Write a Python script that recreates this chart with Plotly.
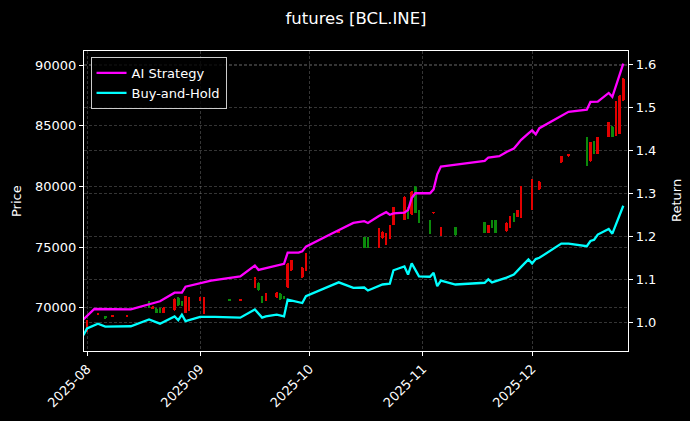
import plotly.graph_objects as go
from plotly.subplots import make_subplots

# ---------------- data ----------------
candle_dates = [
    "2025-08-01", "2025-08-04", "2025-08-06", "2025-08-08", "2025-08-12",
    "2025-08-18", "2025-08-19", "2025-08-20", "2025-08-21", "2025-08-22",
    "2025-08-25", "2025-08-26", "2025-08-27", "2025-08-28", "2025-08-29",
    "2025-09-01", "2025-09-02", "2025-09-09", "2025-09-12", "2025-09-16",
    "2025-09-17", "2025-09-18", "2025-09-19", "2025-09-22", "2025-09-23",
    "2025-09-24", "2025-09-25", "2025-09-26", "2025-09-29", "2025-09-30",
    "2025-10-09", "2025-10-16", "2025-10-17", "2025-10-20", "2025-10-21",
    "2025-10-22", "2025-10-23", "2025-10-24", "2025-10-27", "2025-10-28",
    "2025-10-29", "2025-10-30", "2025-10-31", "2025-11-03", "2025-11-04",
    "2025-11-06", "2025-11-10", "2025-11-18", "2025-11-19", "2025-11-20",
    "2025-11-21", "2025-11-24", "2025-11-25", "2025-11-26", "2025-11-27",
    "2025-11-28", "2025-12-01", "2025-12-03", "2025-12-09", "2025-12-11",
    "2025-12-16", "2025-12-17", "2025-12-18", "2025-12-19", "2025-12-22",
    "2025-12-23", "2025-12-24", "2025-12-25", "2025-12-26",
]
open_ = [
    68900, 69550, 69200, 69320, 69330,
    70000, 70100, 69600, 69600, 70000,
    70700, 70200, 70200, 70950, 70800,
    70800, 70800, 70620, 70700, 72450,
    71450, 70450, 71150, 71250, 70700,
    70800, 73650, 73900, 73300, 74500,
    76280, 74950, 74950, 76550, 76250,
    76150, 76800, 78300, 79150, 77400,
    79550, 77850, 77000, 76150, 77850,
    76650, 76000, 76200, 76800, 76600,
    76200, 77000, 77500, 77100, 78050,
    80000, 80550, 80400, 82500, 82600,
    81700, 83650, 82700, 84050, 85300,
    84100, 87000, 87500, 88900,
]
high = [
    69000, 69600, 69300, 69350, 69360,
    70600, 70150, 69950, 69950, 70050,
    70800, 70850, 70600, 71000, 70850,
    70850, 70850, 70700, 70720, 72500,
    72100, 71000, 71200, 71300, 71200,
    71000, 73700, 73950, 73350, 74550,
    76300, 75850, 75850, 76600, 76300,
    76200, 76850, 78350, 79200, 78350,
    79600, 80000, 78100, 77250, 77880,
    76700, 76700, 77100, 76850, 77250,
    77250, 77050, 77550, 77850, 78100,
    80050, 80600, 80450, 82550, 82650,
    84100, 83700, 83750, 84100, 85350,
    84950, 87050, 87550, 88950,
]
low = [
    68000, 69400, 69150, 69250, 69280,
    69950, 69900, 69550, 69550, 69550,
    69700, 70150, 70150, 69550, 69700,
    70550, 69450, 70600, 70620, 71650,
    71400, 70400, 70550, 70800, 70650,
    70750, 71650, 73050, 72450, 73050,
    76200, 74900, 74900, 74950, 75700,
    75150, 75700, 76800, 77200, 77350,
    77650, 77800, 76950, 76100, 77800,
    75950, 75950, 76150, 76150, 76550,
    76150, 76250, 76550, 77050, 77450,
    77400, 78050, 79750, 81950, 82500,
    81650, 82050, 82650, 82650, 84050,
    84050, 84150, 84300, 87050,
]
close = [
    68100, 69450, 69280, 69280, 69300,
    70500, 69950, 69900, 69900, 69600,
    69800, 70800, 70550, 69600, 69750,
    70600, 69500, 70680, 70640, 71700,
    72050, 70950, 70600, 70850, 71150,
    70950, 71700, 73100, 72500, 73100,
    76220, 75800, 75800, 75000, 75750,
    75200, 75750, 76850, 77250, 78300,
    77700, 79950, 78050, 77200, 77820,
    76000, 76650, 77050, 76200, 77200,
    77200, 76300, 76600, 77800, 77500,
    77450, 78100, 79800, 82000, 82550,
    84050, 82100, 83700, 82700, 84100,
    84900, 84200, 84350, 87100,
]

ai_dates = [
    "2025-07-31", "2025-08-03", "2025-08-13", "2025-08-18", "2025-08-21",
    "2025-08-25", "2025-08-27", "2025-08-28", "2025-09-01", "2025-09-04",
    "2025-09-12", "2025-09-16", "2025-09-17", "2025-09-18", "2025-09-23",
    "2025-09-24", "2025-09-25", "2025-09-28", "2025-09-29", "2025-09-30",
    "2025-10-07", "2025-10-13", "2025-10-16", "2025-10-17", "2025-10-20",
    "2025-10-22", "2025-10-23", "2025-10-24", "2025-10-27", "2025-10-28",
    "2025-10-29", "2025-10-30", "2025-11-03", "2025-11-04", "2025-11-05",
    "2025-11-06", "2025-11-07", "2025-11-18", "2025-11-19", "2025-11-22",
    "2025-11-24", "2025-11-26", "2025-11-27", "2025-11-28", "2025-11-30",
    "2025-12-01", "2025-12-02", "2025-12-03", "2025-12-11", "2025-12-16",
    "2025-12-17", "2025-12-19", "2025-12-22", "2025-12-23", "2025-12-26",
]
ai_return = [
    1.008, 1.032, 1.031, 1.042, 1.050,
    1.070, 1.070, 1.084, 1.093, 1.098,
    1.108, 1.133, 1.123, 1.125, 1.135,
    1.137, 1.163, 1.163, 1.166, 1.177,
    1.207, 1.232, 1.236, 1.232, 1.248,
    1.257, 1.251, 1.254, 1.256, 1.262,
    1.290, 1.301, 1.301, 1.310, 1.345,
    1.363, 1.364, 1.376, 1.384, 1.387,
    1.397, 1.405, 1.415, 1.425, 1.440,
    1.447, 1.438, 1.452, 1.490, 1.495,
    1.513, 1.514, 1.534, 1.525, 1.602,
]

bh_dates = [
    "2025-07-31", "2025-08-01", "2025-08-04", "2025-08-06", "2025-08-13",
    "2025-08-18", "2025-08-21", "2025-08-25", "2025-08-26", "2025-08-27",
    "2025-08-28", "2025-09-01", "2025-09-05", "2025-09-12", "2025-09-16",
    "2025-09-18", "2025-09-19", "2025-09-22", "2025-09-24", "2025-09-25",
    "2025-09-29", "2025-09-30", "2025-10-07", "2025-10-09", "2025-10-13",
    "2025-10-16", "2025-10-17", "2025-10-21", "2025-10-23", "2025-10-24",
    "2025-10-27", "2025-10-28", "2025-10-29", "2025-10-31", "2025-11-03",
    "2025-11-04", "2025-11-05", "2025-11-06", "2025-11-10", "2025-11-18",
    "2025-11-19", "2025-11-20", "2025-11-24", "2025-11-26", "2025-11-28",
    "2025-11-30", "2025-12-01", "2025-12-02", "2025-12-03", "2025-12-09",
    "2025-12-11", "2025-12-16", "2025-12-17", "2025-12-18", "2025-12-19",
    "2025-12-22", "2025-12-23", "2025-12-26",
]
bh_return = [
    0.971, 0.987, 0.998, 0.991, 0.992,
    1.008, 0.998, 1.015, 1.006, 1.019,
    1.004, 1.014, 1.014, 1.012, 1.031,
    1.012, 1.015, 1.019, 1.015, 1.054,
    1.046, 1.062, 1.087, 1.094, 1.081,
    1.082, 1.075, 1.089, 1.091, 1.122,
    1.131, 1.112, 1.138, 1.108, 1.107,
    1.116, 1.085, 1.098, 1.089, 1.093,
    1.101, 1.094, 1.105, 1.112, 1.130,
    1.147, 1.138, 1.148, 1.151, 1.184,
    1.184, 1.178, 1.190, 1.193, 1.205,
    1.218, 1.207, 1.272,
]

x_ticks = ["2025-08-01", "2025-09-01", "2025-10-01", "2025-11-01", "2025-12-01"]
x_tick_labels = ["2025-08", "2025-09", "2025-10", "2025-11", "2025-12"]
left_ticks = [70000, 75000, 80000, 85000, 90000]
left_tick_labels = ["70000", "75000", "80000", "85000", "90000"]
right_ticks = [1.0, 1.1, 1.2, 1.3, 1.4, 1.5, 1.6]
right_tick_labels = ["1.0", "1.1", "1.2", "1.3", "1.4", "1.5", "1.6"]

# ---------------- figure ----------------
FONT = "DejaVu Sans"
GRID = "rgba(140,140,140,0.38)"
UP = "#0b8a0b"
DOWN = "#e30000"
DAY_MS = 86400000
W, H = 690, 421

fig = make_subplots(specs=[[{"secondary_y": True}]])

for is_up, col in [(True, UP), (False, DOWN)]:
    d, body_base, body_len, wick_base, wick_len = [], [], [], [], []
    for i in range(len(candle_dates)):
        up = close[i] >= open_[i]
        if up != is_up:
            continue
        d.append(candle_dates[i])
        lo_b = min(open_[i], close[i])
        hi_b = max(open_[i], close[i])
        body_base.append(lo_b)
        body_len.append(max(hi_b - lo_b, 60))
        wick_base.append(low[i])
        wick_len.append(high[i] - low[i])
    fig.add_trace(
        go.Bar(x=d, y=wick_len, base=wick_base, width=0.22 * DAY_MS,
               marker=dict(color=col, line=dict(width=0)),
               showlegend=False, hoverinfo="skip"),
        secondary_y=False,
    )
    fig.add_trace(
        go.Bar(x=d, y=body_len, base=body_base, width=0.7 * DAY_MS,
               marker=dict(color=col, line=dict(width=0)),
               showlegend=False, hoverinfo="skip"),
        secondary_y=False,
    )

fig.add_trace(
    go.Scatter(x=ai_dates, y=ai_return, mode="lines", name="AI Strategy",
               line=dict(color="#ff00ff", width=2.3)),
    secondary_y=True,
)
fig.add_trace(
    go.Scatter(x=bh_dates, y=bh_return, mode="lines", name="Buy-and-Hold",
               line=dict(color="#00ffff", width=2.3)),
    secondary_y=True,
)

axis_common = dict(
    showgrid=True, gridcolor=GRID, griddash="3px,2px", gridwidth=0.6,
    showline=True, linecolor="white", linewidth=1.2,
    ticks="outside", tickcolor="white", ticklen=4,
    tickfont=dict(size=13, color="white", family=FONT),
    zeroline=False, automargin=False,
)

fig.update_layout(
    width=W, height=H,
    margin=dict(l=84, r=62, t=51, b=70, autoexpand=False),
    paper_bgcolor="black", plot_bgcolor="black",
    barmode="overlay", bargap=0,
    font=dict(family=FONT, color="white", size=13),
    title=dict(text="futures [BCL.INE]", x=0.5, xref="paper", xanchor="center",
               y=1 - 18 / H, yref="container", yanchor="middle",
               font=dict(size=16.5, color="white", family=FONT)),
    showlegend=True,
    legend=dict(x=0.012, y=0.98, xanchor="left", yanchor="top",
                bgcolor="rgba(0,0,0,0.8)", bordercolor="#cccccc", borderwidth=1,
                font=dict(size=13, color="white", family=FONT),
                itemwidth=30, tracegroupgap=0),
    xaxis=dict(
        type="date", domain=[0, 1],
        range=["2025-07-31 04:00", "2025-12-27 07:00"],
        tickvals=x_ticks, ticktext=x_tick_labels, tickangle=-45,
        mirror=True, rangeslider=dict(visible=False),
        **axis_common,
    ),
    yaxis=dict(
        range=[66436, 91172], tickvals=left_ticks, ticktext=left_tick_labels,
        **axis_common,
    ),
    yaxis2=dict(
        range=[0.9345, 1.6314], tickvals=right_ticks, ticktext=right_tick_labels,
        **axis_common,
    ),
    annotations=[
        dict(text="Price", xref="paper", yref="paper", x=0, y=0.5,
             xshift=-68, xanchor="center", yanchor="middle",
             textangle=-90, showarrow=False,
             font=dict(size=13, color="white", family=FONT)),
        dict(text="Return", xref="paper", yref="paper", x=1, y=0.5,
             xshift=48, xanchor="center", yanchor="middle",
             textangle=-90, showarrow=False,
             font=dict(size=13, color="white", family=FONT)),
    ],
)

page_style = (
    "document.body.style.margin='0';"
    "document.body.style.padding='0';"
    "document.body.style.background='black';"
    "document.documentElement.style.background='black';"
)

fig.write_html("out.html", post_script=page_style,
               config={"displayModeBar": False})
